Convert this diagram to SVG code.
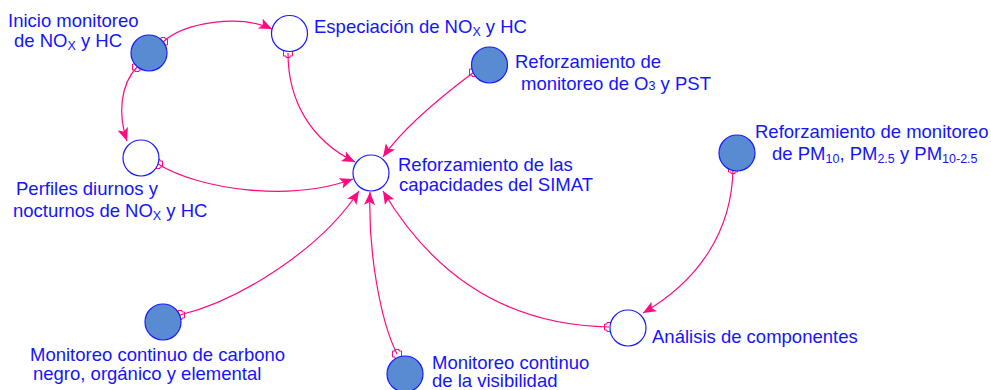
<svg xmlns="http://www.w3.org/2000/svg" width="991" height="390" viewBox="0 0 991 390">
<style>
  .lbl { font-family: "Liberation Sans", Arial, sans-serif; font-size: 18.5px; fill: #1414ff; }
  .sub { font-size: 12.5px; }
  .full { fill: #588bd2; stroke: #1a1aff; stroke-width: 1.2; }
  .empty { fill: #ffffff; stroke: #1a1aff; stroke-width: 1.2; }
  .link { fill: none; stroke: #ff0a80; stroke-width: 1.2; marker-end: url(#arrow); marker-start: url(#tail); }
</style>
<defs>
  <marker id="arrow" markerUnits="userSpaceOnUse" markerWidth="14" markerHeight="12" refX="13" refY="5.5" orient="auto">
    <path d="M0,0 L13,5.5 L0,11 L3,5.5 z" fill="#ff0a80"/>
  </marker>
  <marker id="tail" markerUnits="userSpaceOnUse" markerWidth="12" markerHeight="12" refX="6" refY="6" orient="0">
    <path d="M4,1.5 L8,1.5 L8,3 L10.5,3 L10.5,9 L8,9 L8,10.5 L4,10.5 L4,9 L1.5,9 L1.5,3 L4,3 z" fill="none" stroke="#ff0a80" stroke-width="1"/>
  </marker>
</defs>

<g id="connectors">
  <path class="link" d="M163,42 C185,22 240,14 272,29"/>
  <path class="link" d="M137,67 C120,85 118,115 127,141"/>
  <path class="link" d="M288,53 C288,100 310,140 355,162"/>
  <path class="link" d="M474,72 C450,90 405,125 383,157"/>
  <path class="link" d="M158,164 C200,190 290,202 353,179"/>
  <path class="link" d="M180,315 C240,300 320,250 359,191"/>
  <path class="link" d="M397,354 C380,320 368,250 370,192"/>
  <path class="link" d="M609,327 C500,325 430,270 383,191"/>
  <path class="link" d="M733,169 C732,230 700,280 643,313"/>
</g>

<g id="n-inicio">
  <circle class="full" cx="149" cy="53" r="18"/>
  <text class="lbl" x="8" y="27">Inicio monitoreo</text>
  <text class="lbl" x="14" y="47">de NO<tspan class="sub" dy="3">X</tspan><tspan dy="-3"> y HC</tspan></text>
</g>

<g id="n-especiacion">
  <circle class="empty" cx="289.5" cy="33.5" r="18"/>
  <text class="lbl" x="314" y="33">Especiación de NO<tspan class="sub" dy="3">X</tspan><tspan dy="-3"> y HC</tspan></text>
</g>

<g id="n-o3">
  <circle class="full" cx="489.5" cy="65" r="18"/>
  <text class="lbl" x="515" y="68">Reforzamiento de</text>
  <text class="lbl" x="521" y="90">monitoreo de O<tspan class="sub" font-size="15">3</tspan> y PST</text>
</g>

<g id="n-pm">
  <circle class="full" cx="737" cy="153" r="18"/>
  <text class="lbl" x="755" y="138">Reforzamiento de monitoreo</text>
  <text class="lbl" x="772" y="160">de PM<tspan class="sub" dy="3">10</tspan><tspan dy="-3">, PM</tspan><tspan class="sub" dy="3">2.5</tspan><tspan dy="-3"> y PM</tspan><tspan class="sub" dy="3">10-2.5</tspan></text>
</g>

<g id="n-perfiles">
  <circle class="empty" cx="141" cy="158" r="18"/>
  <text class="lbl" x="16" y="195">Perfiles diurnos y</text>
  <text class="lbl" x="13" y="217">nocturnos de NO<tspan class="sub" dy="3">X</tspan><tspan dy="-3"> y HC</tspan></text>
</g>

<g id="n-simat">
  <circle class="empty" cx="371" cy="173" r="18"/>
  <text class="lbl" x="398" y="171">Reforzamiento de las</text>
  <text class="lbl" x="399" y="191">capacidades del SIMAT</text>
</g>

<g id="n-carbono">
  <circle class="full" cx="163" cy="322" r="18"/>
  <text class="lbl" x="30" y="361">Monitoreo continuo de carbono</text>
  <text class="lbl" x="33" y="380">negro, orgánico y elemental</text>
</g>

<g id="n-visibilidad">
  <circle class="full" cx="405" cy="374" r="18"/>
  <text class="lbl" x="432" y="369">Monitoreo continuo</text>
  <text class="lbl" x="432" y="387">de la visibilidad</text>
</g>

<g id="n-analisis">
  <circle class="empty" cx="628" cy="328" r="18"/>
  <text class="lbl" x="652" y="343">Análisis de componentes</text>
</g>
</svg>
